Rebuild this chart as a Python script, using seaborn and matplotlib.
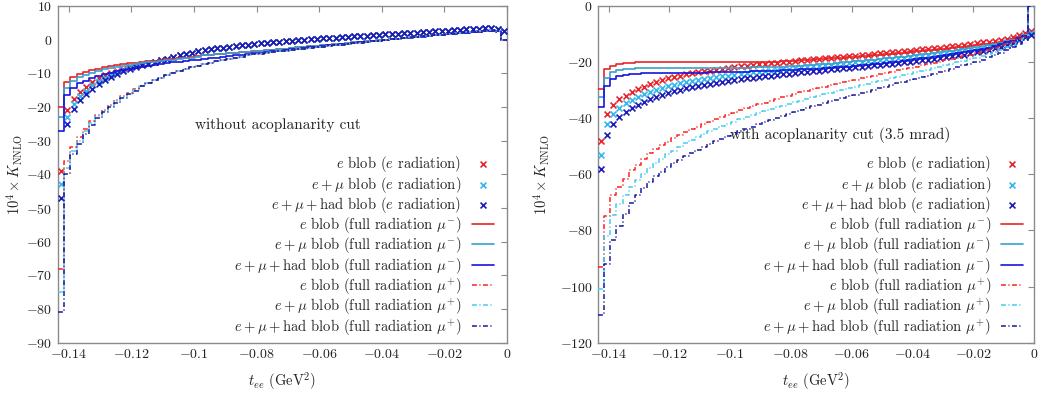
import numpy as np
import pandas as pd
import matplotlib
matplotlib.use("Agg")
import matplotlib.pyplot as plt
import seaborn as sns

# binning in t_ee (GeV^2), 72 bins from the kinematic limit up to 0
t_min = -0.1434
n_bins = 72
edges = np.linspace(t_min, 0.0, n_bins + 1)
centers = 0.5 * (edges[:-1] + edges[1:])

# ---------------- left panel: without acoplanarity cut ----------------
# e radiation (markers): individual first bins, then a common band
L_band = [-6.6, -6.1, -5.6, -5.2, -4.7, -4.3, -3.9, -3.5, -3.2, -2.9,
          -2.6, -2.4, -2.1, -1.9, -1.7, -1.5, -1.3, -1.1, -0.9, -0.8,
          -0.6, -0.5, -0.3, -0.2, 0.0, 0.1, 0.2, 0.4, 0.5, 0.6,
          0.8, 0.9, 1.0, 1.1, 1.2, 1.3, 1.5, 1.6, 1.7, 1.8,
          1.9, 2.0, 2.1, 2.3, 2.4, 2.5, 2.6, 2.7, 2.8, 3.0,
          3.1, 3.2, 3.3, 3.4, 3.4, 3.1, 2.5]
L_x_e = [-39, -21, -17.5, -15.5, -14, -12.6, -11.5, -10.6, -9.8, -9.2,
         -8.6, -8.1, -7.6, -7.2, -6.8] + L_band
L_x_emu = [-43, -23, -19, -16.8, -15.1, -13.6, -12.3, -11.3, -10.4, -9.7,
           -9.0, -8.4, -7.9, -7.4, -7.0] + L_band
L_x_had = [-47, -25, -20.5, -18, -16.2, -14.6, -13.2, -12.0, -11.0, -10.2,
           -9.4, -8.7, -8.1, -7.6, -7.1] + L_band

# full radiation mu-
L_minus_tail = [-4.7, -4.6, -4.4, -4.3, -4.1, -4.0, -3.8, -3.6, -3.5, -3.3,
                -3.2, -3.0, -2.8, -2.7, -2.5, -2.3, -2.2, -2.0, -1.8, -1.7,
                -1.5, -1.3, -1.2, -1.0, -0.8, -0.7, -0.5, -0.3, -0.2, 0.0,
                0.2, 0.3, 0.5, 0.7, 0.8, 1.0, 1.1, 1.3, 1.5, 1.6,
                1.8, 2.0, 2.1, 2.3, 2.5, 2.6, 2.7, 2.6, 0.0]
L_m_e = [-20, -12.5, -11.0, -10.2, -9.6, -9.1, -8.6, -8.1, -7.8, -7.5,
         -7.2, -7.0, -6.8, -6.6, -6.4, -6.2, -6.0, -5.8, -5.7, -5.5,
         -5.3, -5.1, -4.9] + L_minus_tail
L_m_emu = [-23, -14.5, -12.3, -11.2, -10.5, -9.9, -9.3, -8.8, -8.4, -8.0,
           -7.7, -7.4, -7.1, -6.9, -6.7, -6.5, -6.3, -6.1, -5.9, -5.7,
           -5.5, -5.3, -5.1] + L_minus_tail
L_m_had = [-27, -16.5, -14.5, -13.0, -12.2, -11.5, -10.9, -10.3, -9.8, -9.4,
           -9.0, -8.6, -8.3, -8.0, -7.7, -7.4, -7.2, -6.9, -6.7, -6.5,
           -6.3, -6.1, -5.9, -5.7, -5.5, -5.3, -5.1, -4.9, -4.7, -4.5,
           -4.3, -4.1, -3.9, -3.7, -3.5, -3.3, -3.1, -2.9, -2.7, -2.5,
           -2.3, -2.1, -1.9, -1.7, -1.5, -1.4, -1.2, -1.0, -0.8, -0.6,
           -0.5, -0.3, -0.1, 0.1, 0.3, 0.4, 0.6, 0.8, 0.9, 1.1,
           1.3, 1.4, 1.6, 1.8, 1.9, 2.1, 2.2, 2.4, 2.5, 2.6,
           2.5, 0.0]

# full radiation mu+
L_plus_tail = [-13.8, -12.9, -12.1, -11.3, -10.6, -10.0, -9.3, -8.8, -8.2, -7.7,
               -7.2, -6.8, -6.4, -6.0, -5.6, -5.3, -5.0, -4.7, -4.4, -4.2,
               -3.9, -3.7, -3.5, -3.3, -3.1, -2.9, -2.7, -2.5, -2.3, -2.1,
               -1.9, -1.7, -1.5, -1.3, -1.1, -0.9, -0.7, -0.5, -0.3, -0.1,
               0.1, 0.3, 0.5, 0.7, 0.8, 1.0, 1.2, 1.4, 1.5, 1.7,
               1.9, 2.0, 2.2, 2.4, 2.5, 2.7, 2.8, 2.7, 0.0]
L_p_e = [-68, -36, -32, -29, -26.5, -24.2, -22.3, -20.8, -19.3, -18.0,
         -16.8, -15.7, -14.7] + L_plus_tail
L_p_emu = [-75, -38, -33, -30, -27.2, -24.8, -22.8, -21.2, -19.7, -18.3,
           -17.1, -16.0, -14.9] + L_plus_tail
L_p_had = [-81, -40, -34, -31, -28, -25.4, -23.3, -21.6, -20.1, -18.7,
           -17.4, -16.2, -15.1] + L_plus_tail

# ---------------- right panel: with acoplanarity cut (3.5 mrad) ----------------
R_x_e = [-48.0, -38.5, -35.2, -33.3, -31.9, -30.7, -29.6, -28.7, -27.9, -27.1,
         -26.4, -25.8, -25.3, -24.8, -24.4, -24.0, -23.6, -23.3, -23.0, -22.7,
         -22.4, -22.1, -21.8, -21.5, -21.3, -21.0, -20.8, -20.6, -20.4, -20.2,
         -20.0, -19.8, -19.6, -19.4, -19.2, -19.0, -18.8, -18.7, -18.5, -18.3,
         -18.1, -17.9, -17.7, -17.5, -17.3, -17.1, -16.9, -16.7, -16.5, -16.3,
         -16.1, -15.9, -15.7, -15.5, -15.3, -15.1, -14.9, -14.6, -14.4, -14.1,
         -13.9, -13.6, -13.3, -13.0, -12.7, -12.4, -12.0, -11.6, -11.1, -10.5,
         -9.8, -9.0]
R_x_emu = [-53.0, -42.0, -38.5, -36.3, -34.7, -33.4, -32.3, -31.4, -30.6, -29.9,
           -29.2, -28.6, -28.1, -27.6, -27.2, -26.8, -26.4, -26.0, -25.7, -25.4,
           -25.1, -24.8, -24.5, -24.2, -24.0, -23.7, -23.5, -23.2, -23.0, -22.8,
           -22.6, -22.4, -22.1, -21.9, -21.7, -21.5, -21.3, -21.1, -20.9, -20.7,
           -20.5, -20.3, -20.1, -19.9, -19.7, -19.5, -19.3, -19.0, -18.8, -18.6,
           -18.4, -18.2, -17.9, -17.7, -17.5, -17.2, -17.0, -16.7, -16.4, -16.1,
           -15.8, -15.5, -15.2, -14.8, -14.4, -14.0, -13.5, -12.9, -12.3, -11.6,
           -10.8, -9.8]
R_x_had = [-58.0, -46.0, -42.0, -39.6, -37.8, -36.4, -35.2, -34.1, -33.2, -32.4,
           -31.7, -31.0, -30.4, -29.9, -29.4, -28.9, -28.5, -28.1, -27.7, -27.4,
           -27.0, -26.7, -26.4, -26.1, -25.8, -25.6, -25.3, -25.1, -24.8, -24.6,
           -24.4, -24.1, -23.9, -23.7, -23.5, -23.3, -23.0, -22.8, -22.6, -22.4,
           -22.2, -22.0, -21.8, -21.6, -21.4, -21.2, -20.9, -20.7, -20.5, -20.3,
           -20.0, -19.8, -19.6, -19.3, -19.1, -18.8, -18.5, -18.2, -17.9, -17.6,
           -17.3, -16.9, -16.5, -16.1, -15.6, -15.1, -14.5, -13.8, -13.1, -12.2,
           -11.2, -10.2]

R_m_e = [-29.5, -22.5, -21.3, -20.7, -20.4, -20.2, -20.1, -20.0, -20.0, -20.0,
         -20.0, -20.0, -20.0, -20.0, -20.1, -20.1, -20.1, -20.1, -20.1, -20.1,
         -20.1, -20.1, -20.1, -20.1, -20.1, -20.0, -20.0, -19.9, -19.9, -19.8,
         -19.7, -19.6, -19.5, -19.4, -19.2, -19.1, -19.0, -18.8, -18.7, -18.5,
         -18.4, -18.2, -18.0, -17.9, -17.7, -17.5, -17.4, -17.2, -17.0, -16.8,
         -16.6, -16.4, -16.2, -16.0, -15.8, -15.6, -15.4, -15.2, -15.0, -14.7,
         -14.5, -14.2, -14.0, -13.7, -13.4, -13.1, -12.7, -12.3, -11.8, -11.1,
         -10.2, 0.0]
R_m_emu = [-32.5, -25.5, -23.6, -22.9, -22.5, -22.3, -22.2, -22.1, -22.1, -22.0,
           -22.0, -22.0, -22.0, -22.0, -22.0, -22.0, -22.0, -22.0, -22.0, -22.0,
           -22.0, -22.0, -22.0, -22.0, -22.0, -21.9, -21.9, -21.8, -21.8, -21.7,
           -21.6, -21.5, -21.4, -21.3, -21.1, -21.0, -20.8, -20.7, -20.5, -20.3,
           -20.1, -19.9, -19.7, -19.5, -19.3, -19.1, -18.9, -18.7, -18.4, -18.2,
           -18.0, -17.7, -17.5, -17.2, -17.0, -16.7, -16.5, -16.2, -15.9, -15.6,
           -15.3, -15.0, -14.7, -14.3, -14.0, -13.6, -13.1, -12.6, -12.0, -11.3,
           -10.4, 0.0]
R_m_had = [-36.0, -28.5, -26.0, -25.1, -24.6, -24.3, -24.1, -24.0, -23.9, -23.9,
           -23.9, -23.9, -23.9, -23.9, -23.8, -23.8, -23.8, -23.8, -23.7, -23.7,
           -23.6, -23.6, -23.5, -23.5, -23.4, -23.3, -23.3, -23.2, -23.1, -23.0,
           -22.9, -22.8, -22.7, -22.6, -22.5, -22.4, -22.3, -22.2, -22.0, -21.9,
           -21.8, -21.6, -21.4, -21.2, -21.0, -20.8, -20.6, -20.3, -20.1, -19.8,
           -19.6, -19.3, -19.0, -18.7, -18.4, -18.1, -17.8, -17.5, -17.2, -16.9,
           -16.5, -16.1, -15.7, -15.3, -14.8, -14.3, -13.7, -13.0, -12.3, -11.5,
           -10.6, 0.0]

R_p_e = [-93.0, -75.0, -67.5, -64.5, -61.5, -58.5, -56.5, -54.5, -52.5, -51.0,
         -49.6, -48.3, -47.1, -46.0, -45.0, -44.0, -43.0, -42.1, -41.2, -40.4,
         -39.6, -38.8, -38.0, -37.2, -36.5, -35.8, -35.1, -34.4, -33.8, -33.2,
         -32.6, -32.0, -31.4, -30.8, -30.2, -29.7, -29.2, -28.7, -28.2, -27.7,
         -27.2, -26.7, -26.2, -25.7, -25.2, -24.8, -24.3, -23.9, -23.4, -22.9,
         -22.5, -22.0, -21.6, -21.1, -20.7, -20.2, -19.8, -19.3, -18.9, -18.4,
         -17.9, -17.4, -16.9, -16.3, -15.7, -15.1, -14.4, -13.6, -12.8, -11.9,
         -10.9, 0.0]
R_p_emu = [-101.0, -82.0, -74.5, -70.5, -67.3, -64.5, -62.0, -59.8, -57.8, -56.0,
           -54.4, -52.9, -51.5, -50.2, -49.0, -47.8, -46.7, -45.7, -44.7, -43.8,
           -42.9, -42.0, -41.2, -40.4, -39.6, -38.9, -38.2, -37.5, -36.8, -36.1,
           -35.5, -34.9, -34.3, -33.7, -33.1, -32.5, -32.0, -31.4, -30.9, -30.3,
           -29.8, -29.3, -28.8, -28.2, -27.7, -27.2, -26.7, -26.2, -25.7, -25.2,
           -24.7, -24.2, -23.7, -23.2, -22.7, -22.2, -21.7, -21.2, -20.7, -20.1,
           -19.6, -19.0, -18.4, -17.8, -17.1, -16.4, -15.6, -14.7, -13.8, -12.8,
           -11.6, 0.0]
R_p_had = [-110.0, -92.0, -83.5, -78.5, -74.0, -70.3, -67.3, -64.8, -62.6, -60.7,
           -59.0, -57.5, -56.1, -54.8, -53.6, -52.4, -51.3, -50.2, -49.2, -48.2,
           -47.3, -46.4, -45.5, -44.6, -43.8, -43.0, -42.2, -41.4, -40.6, -39.9,
           -39.2, -38.5, -37.8, -37.1, -36.5, -35.8, -35.2, -34.6, -34.0, -33.4,
           -32.8, -32.2, -31.6, -31.0, -30.5, -29.9, -29.3, -28.7, -28.2, -27.6,
           -27.0, -26.5, -25.9, -25.3, -24.8, -24.2, -23.6, -23.0, -22.4, -21.8,
           -21.2, -20.5, -19.8, -19.1, -18.3, -17.5, -16.6, -15.6, -14.5, -13.4,
           -12.2, 0.0]

labels_x = [r"$e$ blob ($e$ radiation)",
            r"$e+\mu$ blob ($e$ radiation)",
            r"$e+\mu+$had blob ($e$ radiation)"]
labels_m = [r"$e$ blob (full radiation $\mu^{-}$)",
            r"$e+\mu$ blob (full radiation $\mu^{-}$)",
            r"$e+\mu+$had blob (full radiation $\mu^{-}$)"]
labels_p = [r"$e$ blob (full radiation $\mu^{+}$)",
            r"$e+\mu$ blob (full radiation $\mu^{+}$)",
            r"$e+\mu+$had blob (full radiation $\mu^{+}$)"]

col_x = ["#e8242a", "#33b8ec", "#1c1cb8"]
col_m = ["#e8242a", "#3aa0cc", "#1515dd"]
col_p = ["#ff2020", "#44cdf0", "#1818a0"]
dashdot = (0, (3.2, 1.6, 0.8, 1.6))

sns.set_style("white")
plt.rcParams.update({
    "font.family": "cmr10",
    "mathtext.fontset": "cm",
    "axes.formatter.use_mathtext": True,
    "axes.edgecolor": "#8a8a8a",
    "axes.linewidth": 1.0,
    "xtick.direction": "in",
    "ytick.direction": "in",
    "xtick.color": "#8a8a8a",
    "ytick.color": "#8a8a8a",
    "xtick.labelcolor": "#222222",
    "ytick.labelcolor": "#222222",
    "text.color": "#222222",
    "axes.labelcolor": "#222222",
})
FS = 10.5
TFS = 10


def steps(vals):
    return pd.DataFrame({"t": edges, "k": list(vals) + [vals[-1]]})


def draw(ax, xs, ms, ps, yticks, note, note_xy, leg_anchor):
    for vals, c, lab in zip(xs, col_x, labels_x):
        sns.scatterplot(x=centers, y=vals, ax=ax, marker="x", s=18,
                        color=c, linewidth=1.2, label=lab, zorder=3)
    for vals, c, lab in zip(ms, col_m, labels_m):
        sns.lineplot(data=steps(vals), x="t", y="k", ax=ax, color=c, lw=1.2,
                     drawstyle="steps-post", estimator=None, label=lab, zorder=4)
    for vals, c, lab in zip(ps, col_p, labels_p):
        sns.lineplot(data=steps(vals), x="t", y="k", ax=ax, color=c, lw=1.1,
                     linestyle=dashdot, drawstyle="steps-post", estimator=None,
                     label=lab, zorder=5)

    ax.set_xlim(t_min, 0)
    ax.set_ylim(yticks[0], yticks[-1])
    xt = [-0.14, -0.12, -0.1, -0.08, -0.06, -0.04, -0.02, 0]
    ax.set_xticks(xt)
    ax.set_xticklabels(["$-0.14$", "$-0.12$", "$-0.1$", "$-0.08$", "$-0.06$",
                        "$-0.04$", "$-0.02$", "$0$"], fontsize=TFS)
    ax.set_yticks(yticks)
    ax.set_yticklabels(["$%d$" % v for v in yticks], fontsize=TFS)
    ax.tick_params(top=True, right=True, length=4, width=0.8, pad=4)
    ax.set_xlabel(r"$t_{ee}$ (GeV$^2$)", fontsize=FS)
    ax.set_ylabel(r"$10^4 \times K_{\mathrm{NNLO}}$", fontsize=FS)
    ax.text(note_xy[0], note_xy[1], note, fontsize=FS + 0.5, ha="center",
            va="center", transform=ax.transAxes)

    handles, labels = ax.get_legend_handles_labels()
    ax.legend(handles, labels, loc="lower right", bbox_to_anchor=leg_anchor,
              frameon=False, markerfirst=False, fontsize=FS, handlelength=1.5,
              handletextpad=0.7, labelspacing=0.02, borderpad=0, borderaxespad=0)


fig = plt.figure(figsize=(10.44, 3.94), dpi=100)
ax1 = fig.add_axes([58 / 1044, 1 - 342.7 / 394, 449 / 1044, 336.7 / 394])
ax2 = fig.add_axes([598.3 / 1044, 1 - 342.7 / 394, 435.7 / 1044, 336.7 / 394])

draw(ax1, [L_x_e, L_x_emu, L_x_had], [L_m_e, L_m_emu, L_m_had],
     [L_p_e, L_p_emu, L_p_had], list(range(-90, 11, 10)),
     "without acoplanarity cut", (0.49, 0.648), (0.97, 0.018))
draw(ax2, [R_x_e, R_x_emu, R_x_had], [R_m_e, R_m_emu, R_m_had],
     [R_p_e, R_p_emu, R_p_had], list(range(-120, 1, 20)),
     "with acoplanarity cut (3.5 mrad)", (0.555, 0.617), (0.975, 0.018))

ax1.yaxis.set_label_coords(-0.074, 0.5)
ax2.yaxis.set_label_coords(-0.106, 0.5)
ax1.xaxis.set_label_coords(0.498, -0.082)
ax2.xaxis.set_label_coords(0.5, -0.082)

fig.savefig("out.png", dpi=100)
